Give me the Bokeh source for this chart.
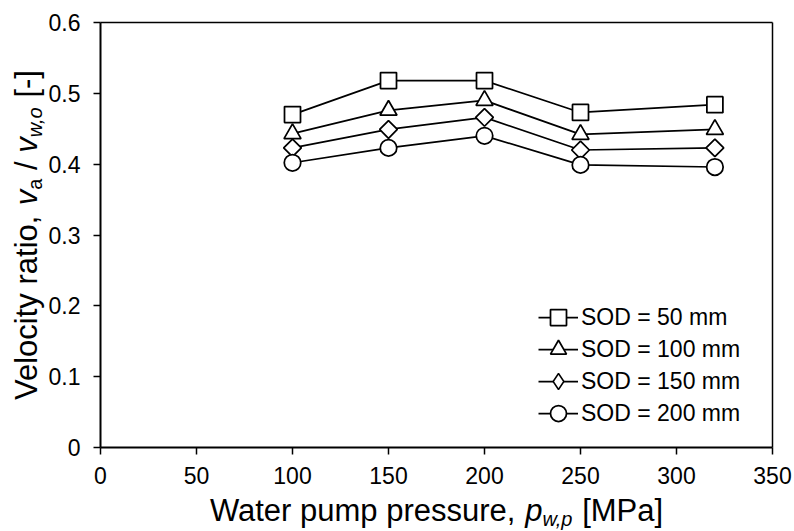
import math
from bokeh.plotting import figure
from bokeh.models import Range1d, FixedTicker, Label, Legend, LegendItem, LinearAxis
from bokeh.embed import file_html
from bokeh.resources import INLINE

# ---------------- data ----------------
pressure = [100, 150, 200, 250, 320]
sod_50 = [0.470, 0.518, 0.518, 0.473, 0.484]
sod_100 = [0.443, 0.476, 0.490, 0.442, 0.449]
sod_150 = [0.423, 0.449, 0.466, 0.420, 0.423]
sod_200 = [0.402, 0.423, 0.440, 0.399, 0.396]
series_labels = ["SOD = 50 mm", "SOD = 100 mm", "SOD = 150 mm", "SOD = 200 mm"]
x_ticks = [0, 50, 100, 150, 200, 250, 300, 350]
y_ticks = [0, 0.1, 0.2, 0.3, 0.4, 0.5, 0.6]
y_tick_labels = ["0", "0.1", "0.2", "0.3", "0.4", "0.5", "0.6"]

# ---------------- layout ----------------
W, H = 794, 531
FL, FR, FT, FB = 100, 772, 22, 447          # plot-area box in canvas pixels
XMIN, XMAX, YMIN, YMAX = 0, 350, 0, 0.6
FONT = "Liberation Sans"

xs = (FR - FL) / (XMAX - XMIN)              # px per x unit
ys = (FB - FT) / (YMAX - YMIN)              # px per y unit
x_range = Range1d(XMIN - FL / xs, XMAX + (W - FR) / xs)
y_range = Range1d(YMIN - (H - FB) / ys, YMAX + FT / ys)

p = figure(width=W, height=H, output_backend="svg", toolbar_location=None,
           x_range=x_range, y_range=y_range,
           x_axis_location=None, y_axis_location=None,
           min_border=0, min_border_left=0, min_border_right=0,
           min_border_top=0, min_border_bottom=0)
p.xgrid.visible = False
p.ygrid.visible = False
p.outline_line_color = None
p.background_fill_color = "white"
p.border_fill_color = "white"


def style_axis(ax, labels=True):
    ax.axis_line_color = "black"
    ax.axis_line_width = 2
    ax.major_tick_line_color = "black"
    ax.major_tick_line_width = 1.5
    ax.major_tick_out = 7
    ax.major_tick_in = 0
    ax.minor_tick_line_color = None
    ax.major_label_text_font = FONT
    ax.major_label_text_font_size = "23px"
    ax.major_label_text_color = "black"
    if not labels:
        ax.major_tick_line_color = None
        ax.major_label_text_font_size = "0px"
        ax.major_label_text_alpha = 0
        ax.axis_line_width = 1.5


xaxis = LinearAxis(fixed_location=YMIN, bounds=(XMIN, XMAX),
                   ticker=FixedTicker(ticks=x_ticks), major_label_standoff=12)
style_axis(xaxis)
yaxis = LinearAxis(fixed_location=XMIN, bounds=(YMIN, YMAX),
                   ticker=FixedTicker(ticks=y_ticks), major_label_standoff=13,
                   major_label_overrides={t: l for t, l in zip(y_ticks, y_tick_labels)})
style_axis(yaxis)
top_axis = LinearAxis(fixed_location=YMAX, bounds=(XMIN, XMAX), ticker=FixedTicker(ticks=[]))
style_axis(top_axis, labels=False)
right_axis = LinearAxis(fixed_location=XMAX, bounds=(YMIN, YMAX), ticker=FixedTicker(ticks=[]))
style_axis(right_axis, labels=False)
p.add_layout(xaxis, "below")
p.add_layout(yaxis, "left")
p.add_layout(top_axis, "above")
p.add_layout(right_axis, "right")

# ---------------- series ----------------
styles = [
    dict(marker="square", size=16, angle=0, legend_marker="square"),
    dict(marker="triangle", size=17, angle=0, legend_marker="triangle"),
    dict(marker="square", size=12.5, angle=math.pi / 4, legend_marker="diamond"),
    dict(marker="circle", size=16.5, angle=0, legend_marker="circle"),
]
legend_rows_px = [317, 349, 381, 413]
for ys_, lab, st, row in zip([sod_50, sod_100, sod_150, sod_200], series_labels, styles, legend_rows_px):
    lr = p.line(pressure, ys_, line_color="black", line_width=1.75)
    sr = p.scatter(pressure, ys_, marker=st["marker"], size=st["size"], angle=st["angle"],
                   fill_color="white", line_color="black", line_width=1.75)
    if st["legend_marker"] != st["marker"]:
        # legend-only glyph (a NaN point, never drawn) so the key shows a diamond
        sr = p.scatter([float("nan")], [float("nan")], marker=st["legend_marker"],
                       size=st["size"], fill_color="white", line_color="black", line_width=1.5)
    leg = Legend(items=[LegendItem(label=lab, renderers=[lr, sr])],
                 location=(538, H - (row + 20)), glyph_width=40, glyph_height=40,
                 spacing=0, padding=0, label_standoff=3,
                 label_text_font=FONT, label_text_font_size="23px",
                 label_text_color="black",
                 border_line_color=None, background_fill_alpha=0)
    p.add_layout(leg)

# ---------------- axis titles (with italic + subscripts) ----------------
AW = {' ': 278, ',': 278, '.': 278, '/': 278, '[': 278, ']': 278, '-': 333,
      'W': 944, 'a': 556, 't': 278, 'e': 556, 'r': 333, 'p': 556, 'u': 556,
      'm': 833, 's': 500, 'M': 833, 'P': 667, 'V': 667, 'l': 222, 'o': 556,
      'c': 500, 'i': 222, 'y': 500, 'w': 722, 'v': 500}


def tw(s, size):
    return sum(AW.get(c, 556) for c in s) / 1000.0 * size


def dx(px):
    return XMIN + (px - FL) / xs


def dy(py):
    return YMIN + (FB - py) / ys


BASE_FIX = 0.29   # measured offset of Bokeh's rendered baseline, in em
BIG, SUB, SUBSHIFT = 31, 20, 5
x_title = [("Water pump pressure, ", "normal", BIG, 0), ("p", "italic", BIG, 0),
           ("w,p", "italic", SUB, SUBSHIFT), (" [MPa]", "normal", BIG, 0)]
y_title = [("Velocity ratio, ", "normal", BIG, 0), ("v", "italic", BIG, 0),
           ("a", "normal", SUB, SUBSHIFT), (" / ", "normal", BIG, 0),
           ("v", "italic", BIG, 0), ("w,o", "italic", SUB, SUBSHIFT),
           (" [-]", "normal", BIG, 0)]

total = sum(tw(t, s) for t, _, s, _ in x_title)
cx = (FL + FR) / 2 - total / 2
base_y = 519
for t, style, s, shift in x_title:
    lead = tw(t[:len(t) - len(t.lstrip(" "))], s)
    p.add_layout(Label(x=dx(cx + lead), y=dy(base_y + shift - BASE_FIX * s), text=t.strip(),
                       text_font=FONT, text_font_style=style, text_font_size=f"{s}px",
                       text_color="black", text_align="left", text_baseline="alphabetic"))
    cx += tw(t, s)

total = sum(tw(t, s) for t, _, s, _ in y_title)
cy = (FT + FB) / 2 + total / 2
base_x = 35
for t, style, s, shift in y_title:
    lead = tw(t[:len(t) - len(t.lstrip(" "))], s)
    p.add_layout(Label(x=dx(base_x + shift - BASE_FIX * s), y=dy(cy - lead), text=t.strip(),
                       text_font=FONT, text_font_style=style, text_font_size=f"{s}px",
                       text_color="black", text_align="left", text_baseline="alphabetic",
                       angle=math.pi / 2))
    cy -= tw(t, s)

open("out.html", "w").write(file_html(p, INLINE))
